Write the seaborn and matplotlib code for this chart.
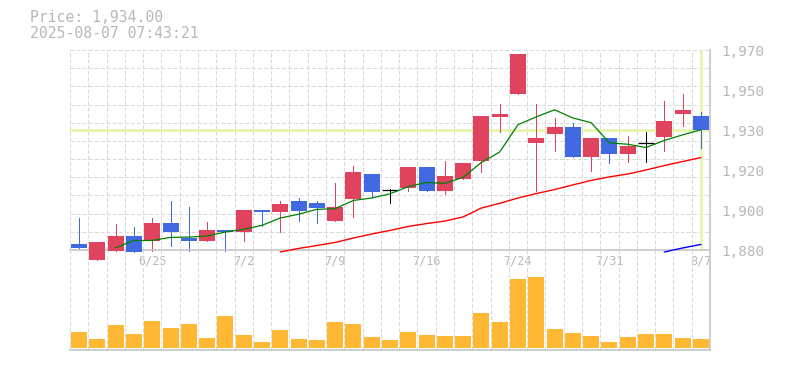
import matplotlib
matplotlib.use("Agg")
import numpy as np
import pandas as pd
import matplotlib.pyplot as plt
import seaborn as sns
from matplotlib.transforms import ScaledTranslation

# daily candles, 6/19 - 8/7
dates = ['6/19', '6/20', '6/23', '6/24', '6/25', '6/26', '6/27', '6/30', '7/1', '7/2',
         '7/3', '7/4', '7/7', '7/8', '7/9', '7/10', '7/11', '7/14', '7/15', '7/16',
         '7/17', '7/18', '7/22', '7/23', '7/24', '7/25', '7/28', '7/29', '7/30', '7/31',
         '8/1', '8/4', '8/5', '8/6', '8/7']
opens = [1882.5, 1875.5, 1879.5, 1886.5, 1884, 1892, 1885.5, 1884, 1889, 1888,
         1898, 1897, 1902, 1901, 1893, 1903, 1914, 1907, 1908, 1917.5,
         1906.5, 1912, 1920, 1940, 1950, 1928, 1932, 1935.5, 1922, 1930.5,
         1923, 1928, 1931, 1941, 1940.5]
highs = [1894.5, 1883.5, 1891.5, 1890.5, 1894.5, 1902, 1899.5, 1892.5, 1889, 1898,
         1898, 1902, 1903.5, 1902, 1910, 1918, 1914, 1907.5, 1917.5, 1917.5,
         1920, 1919, 1940.5, 1945.5, 1968, 1945.5, 1939.5, 1937, 1930.5, 1930.5,
         1931.5, 1933, 1947, 1950, 1942]
lows = [1881, 1875.5, 1879.5, 1879, 1879.5, 1882, 1879.5, 1884, 1879.5, 1884,
        1891, 1888, 1893, 1892, 1893, 1895, 1904, 1901, 1906.5, 1906.5,
        1905, 1912, 1915, 1933, 1950, 1906.5, 1924.5, 1922, 1915.5, 1919,
        1919.5, 1919.5, 1924.5, 1936, 1926]
closes = [1881, 1883.5, 1886.5, 1879, 1892, 1888, 1884, 1889, 1888, 1898,
          1897, 1900.5, 1897.5, 1899, 1899.5, 1915, 1906, 1907, 1917.5, 1906.5,
          1913.5, 1919, 1940.5, 1941, 1968, 1930.5, 1935.5, 1922, 1930.5, 1923,
          1927, 1928, 1938, 1943, 1934]
volume = [16300, 9000, 23000, 14000, 27000, 20000, 24000, 10000, 32000, 13000,
          6000, 18000, 9000, 8000, 26000, 24000, 11000, 8000, 16000, 13000,
          12000, 12000, 35000, 26000, 69000, 71000, 19000, 15000, 12000, 6000,
          11000, 14000, 14000, 10000, 9000]

# moving averages as drawn
nan = np.nan
ma_short = [nan, nan, 1881, 1884.3, 1884.3, 1885.7, 1885.8, 1886.3, 1888.1, 1889.3,
            1891.1, 1894.4, 1896.1, 1898.3, 1898.6, 1902.3, 1903.4, 1905.3, 1908.5, 1910.4,
            1910.0, 1912.7, 1919.4, 1924.1, 1936.4, 1939.9, 1943.1, 1939.4, 1937.3, 1928.2,
            1927.6, 1926.1, 1929.3, 1931.8, 1934.1]
ma_mid = [nan] * 11 + [1879.1, 1880.7, 1882, 1883.4, 1885.4, 1887.2, 1888.8, 1890.6, 1891.9,
                       1893, 1894.9, 1898.9, 1901, 1903.4, 1905.4, 1907.2, 1909.3, 1911.3, 1912.9,
                       1914.2, 1916, 1918, 1919.8, 1921.6]
ma_long = [nan] * 32 + [1879.1, 1880.9, 1882.5]

last_price = 1934.0
stamp = '2025-08-07 07:43:21'
y_min, y_max = 1880, 1970

UP, DOWN, FLAT = '#E0435E', '#4169E1', '#000000'
GRID = '#d9d9d9'
BORDER = '#c0c0c0'
TXT = '#b8b8b8'
HILITE = '#e6f5b4'

sns.set_theme(style='white')
plt.rcParams['font.family'] = ['DejaVu Sans Mono', 'DejaVu Sans']
plt.rcParams['lines.scale_dashes'] = False

df = pd.DataFrame({'date': dates, 'open': opens, 'high': highs, 'low': lows,
                   'close': closes, 'volume': volume})
df['x'] = np.arange(len(df))
df['color'] = np.where(df.close > df.open, UP, np.where(df.close < df.open, DOWN, FLAT))

fig = plt.figure(figsize=(7.85, 3.70), dpi=100)
W, H = 785, 370
ax = fig.add_axes([70 / W, 120 / H, 640 / W, 200 / H])
axv = fig.add_axes([70 / W, 20 / H, 640 / W, 100 / H])
axv.set_facecolor('none')

n = len(df)
bw = 0.875

# price grid
ax.set_xlim(-0.5, n - 0.5)
ax.set_ylim(y_min, y_max)
ax.set_xticks(np.arange(-0.5, n, 1), minor=True)
ax.set_yticks(np.linspace(y_min, y_max, 12), minor=True)
ax.grid(which='minor', color=GRID, ls=(0, (2.9, 1.45)), lw=0.75, zorder=0)
ax.grid(which='major', visible=False)
ax.set_axisbelow(True)

# last price markers
ax.axhline(last_price, color=HILITE, lw=2.2, zorder=1)
ax.axvline(n - 1, color=HILITE, lw=2.2, zorder=1)

# candles
ax.vlines(df.x, df.low, df.high, colors=df.color, lw=0.72, zorder=2, clip_on=False,
          antialiased=False)
body = df[df.open != df.close]
ax.bar(body.x, (body.close - body.open).abs(), bottom=np.minimum(body.open, body.close),
       width=bw, color=body.color, lw=0, zorder=3, clip_on=False)
doji = df[df.open == df.close]
ax.hlines(doji.open, doji.x - bw / 2, doji.x + bw / 2, colors=FLAT, lw=0.9, zorder=3)

# moving averages
sns.lineplot(x=df.x, y=ma_long, color='#0000ff', lw=1.0, ax=ax, zorder=4, clip_on=False)
sns.lineplot(x=df.x, y=ma_mid, color='#ff0000', lw=1.0, ax=ax, zorder=4, clip_on=False)
sns.lineplot(x=df.x, y=ma_short, color='#008000', lw=0.9, ax=ax, zorder=4, clip_on=False)
ax.set(xlabel='', ylabel='')

# axes labels
ax.set_xticks(df.x[4::5])
ax.set_xticklabels(df.date[4::5])
ax.set_yticks([])
ax.tick_params(which='both', length=0)
ax.tick_params(axis='x', pad=3.5, labelsize=8.5, labelcolor=TXT)
off = ScaledTranslation(11 / 100, -2.5 / 100, fig.dpi_scale_trans)
for v in np.linspace(y_min, y_max, 6):
    ax.text(1.0, v, f"{round(v, -1):,.0f}", transform=ax.get_yaxis_transform() + off,
            ha='left', va='center', fontsize=10.3, color=TXT, clip_on=False)

for s in ['top', 'left']:
    ax.spines[s].set_visible(False)
for s in ['right', 'bottom']:
    ax.spines[s].set_color(BORDER)
    ax.spines[s].set_linewidth(1.1)

# volume
sns.barplot(x=df.date, y=df.volume, color='#FFB833', saturation=1, width=bw,
            linewidth=0, ax=axv)
axv.set(xlabel='', ylabel='')
axv.set_xlim(-0.5, n - 0.5)
axv.set_ylim(-2000, 98000)
axv.set_xticks([])
axv.set_yticks([])
axv.set_xticks(np.arange(-0.5, n, 1), minor=True)
axv.grid(which='minor', axis='x', color=GRID, ls=(0, (2.9, 1.45)), lw=0.75)
axv.set_axisbelow(True)
axv.tick_params(which='both', length=0, labelbottom=False)
for s in ['top', 'left']:
    axv.spines[s].set_visible(False)
for s in ['right', 'bottom']:
    axv.spines[s].set_color(BORDER)
    axv.spines[s].set_linewidth(1.1)

fig.text(30 / W, 1 - 18 / H, f"Price: {last_price:,.2f}", ha='left', va='center',
         fontsize=10.6, color=TXT)
fig.text(30 / W, 1 - 33 / H, stamp, ha='left', va='center', fontsize=10.6, color=TXT)

fig.savefig('out.png', dpi=100, facecolor='white')
